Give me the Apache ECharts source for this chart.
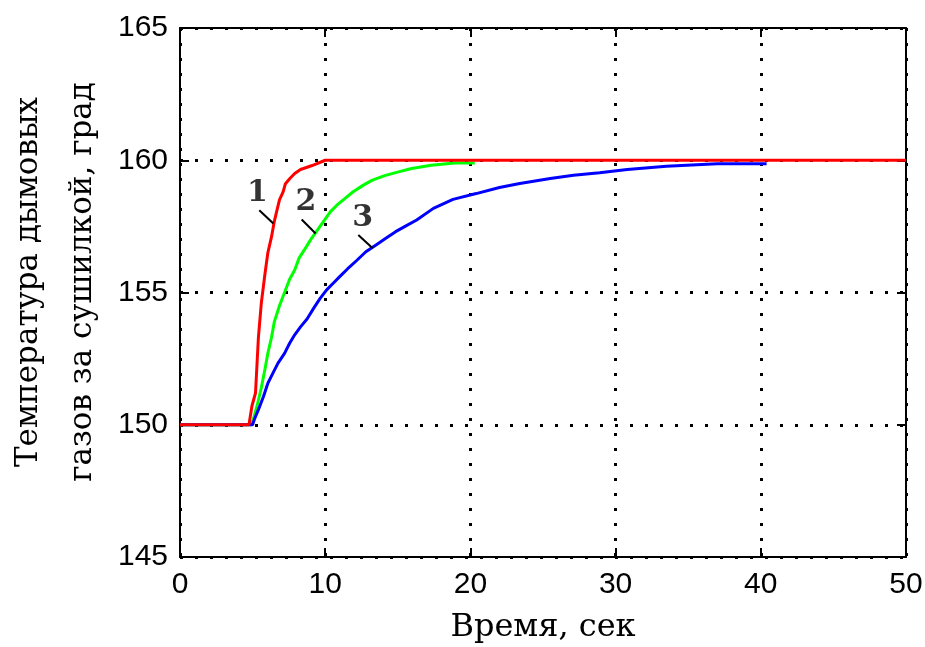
<!DOCTYPE html>
<html><head><meta charset="utf-8">
<script src="https://cdn.jsdelivr.net/npm/echarts@6/dist/echarts.min.js"></script>
<style>html,body{margin:0;padding:0;background:#fff}#c{width:925px;height:647px}</style>
</head><body><div id="c"></div>
<script>
// Time axis (sec) and temperature values for each curve
const redT = [0, 4.75, 4.95, 5.2, 5.4, 5.6, 5.85, 6.05, 6.3, 6.5, 6.65, 6.85, 7.1, 7.25, 7.55, 7.9, 8.3, 9.1, 10.0, 50];
const redY = [150, 150, 150.7, 151.2, 153.3, 154.6, 155.7, 156.5, 157.1, 157.7, 158.05, 158.5, 158.8, 159.1, 159.3, 159.5, 159.65, 159.8, 160, 160];
const greenT = [0, 4.9, 5.05, 5.3, 5.6, 5.85, 6.05, 6.3, 6.5, 6.85, 7.2, 7.55, 7.9, 8.2, 8.55, 9.0, 9.45, 9.9, 10.35, 10.8, 11.35, 11.9, 12.6, 13.25, 14.15, 15.05, 15.95, 17.3, 18.9, 20.3];
const greenY = [150, 150, 150.2, 150.7, 151.4, 152.1, 152.7, 153.3, 153.9, 154.5, 155.0, 155.5, 155.85, 156.3, 156.6, 157.0, 157.35, 157.7, 158.05, 158.3, 158.55, 158.8, 159.05, 159.25, 159.43, 159.56, 159.69, 159.81, 159.9, 159.9];
const blueT = [0, 5.0, 5.12, 5.4, 5.75, 6.05, 6.4, 6.75, 7.2, 7.55, 7.9, 8.3, 8.75, 9.2, 9.65, 10.1, 10.55, 11.0, 11.55, 12.15, 12.8, 13.5, 14.15, 14.85, 15.5, 16.3, 17.45, 18.8, 20.4, 22.0, 23.4, 25.5, 27.1, 28.9, 30.8, 33.5, 37.0, 40.4];
const blueY = [150, 150, 150.2, 150.57, 151.07, 151.57, 151.95, 152.33, 152.7, 153.08, 153.4, 153.7, 154.0, 154.4, 154.78, 155.1, 155.35, 155.6, 155.9, 156.2, 156.54, 156.8, 157.04, 157.3, 157.5, 157.74, 158.18, 158.52, 158.74, 158.97, 159.12, 159.31, 159.43, 159.53, 159.65, 159.77, 159.87, 159.87];
// Curve labels and leader lines (data coordinates)
const curveLabels = ['1', '2', '3'];
const labelPos = [[5.33, 158.74], [8.68, 158.40], [12.58, 157.82]];
const leaderFrom = [[5.46, 158.11], [8.38, 157.76], [12.28, 157.17]];
const leaderTo = [[6.43, 157.61], [9.34, 157.23], [13.27, 156.67]];
const xTicks = [0, 10, 20, 30, 40, 50];
const yTicks = [145, 150, 155, 160, 165];
const xTitle = 'Время, сек';
const yTitle = ['Температура дымовых', 'газов за сушилкой, град'];

const zip = (a, b) => a.map((v, i) => [v, b[i]]);
const chart = echarts.init(document.getElementById('c'), null, {renderer: 'canvas'});
const tickFont = {fontFamily: 'Liberation Sans', fontSize: 30, color: '#000'};
const serif = 'DejaVu Serif';
const dotted = {color: '#000', width: 3, type: [3, 12]};
const axisBase = {
  axisLine: {show: true, onZero: false, lineStyle: {color: '#000', width: 2}},
  axisTick: {show: true, inside: true, length: 9, lineStyle: {color: '#000', width: 2}},
};
chart.setOption({
  animation: false,
  backgroundColor: '#fff',
  grid: {left: 180, right: 19, top: 28, bottom: 90, containLabel: false, outerBoundsMode: 'none'},
  xAxis: [
    Object.assign({type: 'value', min: 0, max: 50, interval: 10, position: 'bottom',
      axisLabel: Object.assign({margin: 13, formatter: v => xTicks.includes(v) ? String(v) : ''}, tickFont),
      splitLine: {show: true, lineStyle: dotted},
      name: xTitle, nameLocation: 'middle', nameGap: 55,
      nameTextStyle: {fontFamily: serif, fontSize: 32, color: '#000'}}, axisBase),
    Object.assign({type: 'value', min: 0, max: 50, interval: 10, position: 'top',
      axisLabel: {show: false}, splitLine: {show: false}}, axisBase)
  ],
  yAxis: [
    Object.assign({type: 'value', min: 145, max: 165, interval: 5, position: 'left',
      axisLabel: Object.assign({margin: 12, formatter: v => yTicks.includes(v) ? String(v) : ''}, tickFont),
      splitLine: {show: true, lineStyle: dotted}}, axisBase),
    Object.assign({type: 'value', min: 145, max: 165, interval: 5, position: 'right',
      axisLabel: {show: false}, splitLine: {show: false}}, axisBase)
  ],
  graphic: [{
    type: 'text', x: 56, y: 282, rotation: Math.PI / 2,
    style: {text: yTitle.join('\n'), fontFamily: serif, fontSize: 31, lineHeight: 54,
      fill: '#000', align: 'center', verticalAlign: 'middle'}
  }],
  series: [
    {type: 'line', data: zip(greenT, greenY), showSymbol: false, lineStyle: {color: '#00ff00', width: 3}, z: 2},
    {type: 'line', data: zip(blueT, blueY), showSymbol: false, lineStyle: {color: '#0000ff', width: 3}, z: 3},
    {type: 'line', data: zip(redT, redY), showSymbol: false, lineStyle: {color: '#ff0000', width: 3}, z: 4},
    {type: 'lines', coordinateSystem: 'cartesian2d', z: 5,
      lineStyle: {color: '#000', width: 2, opacity: 1},
      data: leaderFrom.map((p, i) => ({coords: [p, leaderTo[i]]}))},
    {type: 'scatter', symbolSize: 0, z: 6,
      data: curveLabels.map((n, i) => ({name: n, value: labelPos[i]})),
      label: {show: true, position: 'inside', formatter: p => p.name,
        fontFamily: serif, fontSize: 30, fontWeight: 'bold', color: '#000'}}
  ]
});
</script></body></html>
